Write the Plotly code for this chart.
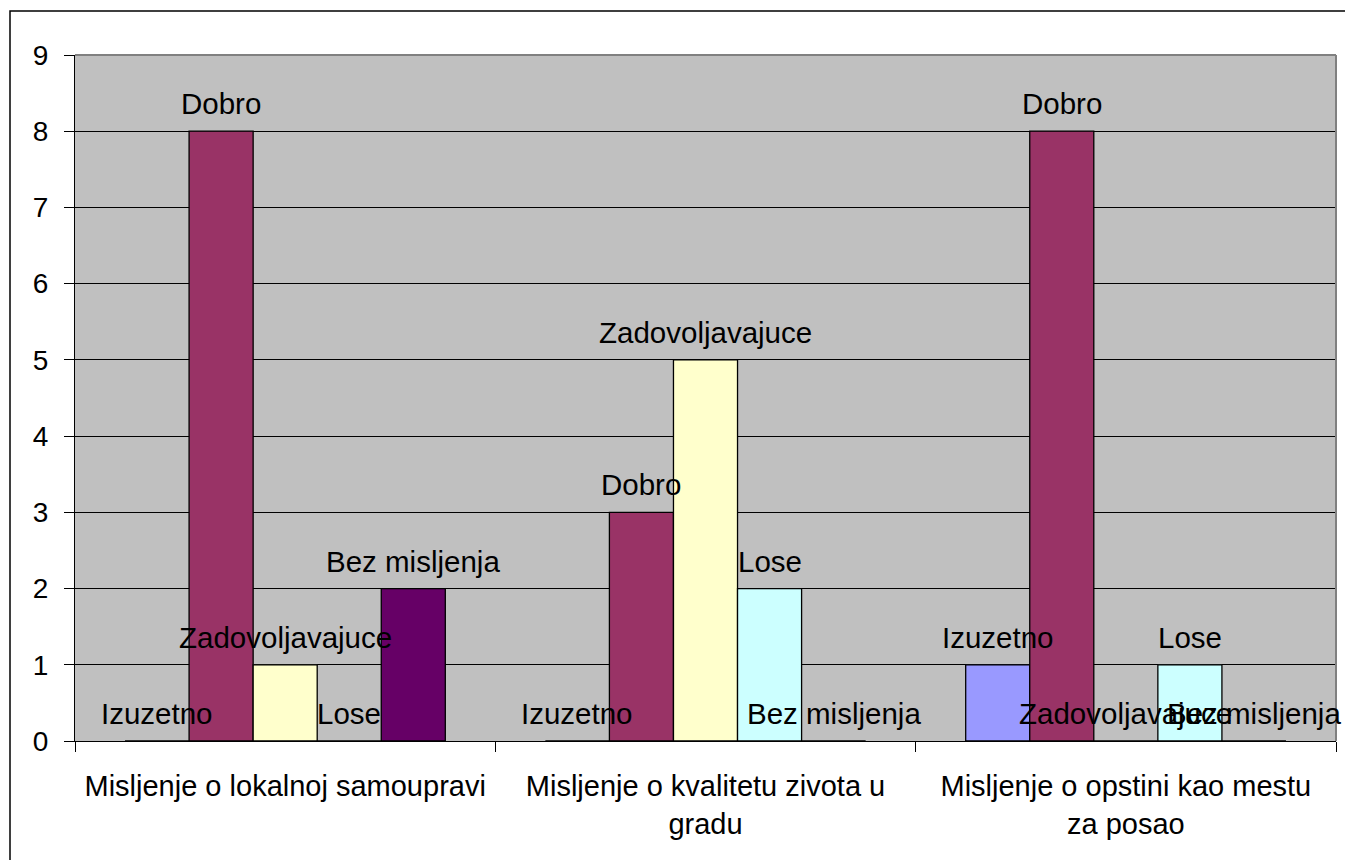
import plotly.graph_objects as go

categories = [
    "Misljenje o lokalnoj samoupravi",
    "Misljenje o kvalitetu zivota u<br>gradu",
    "Misljenje o opstini kao mestu<br>za posao",
]
series_names = ["Izuzetno", "Dobro", "Zadovoljavajuce", "Lose", "Bez misljenja"]
izuzetno = [0, 0, 1]
dobro = [8, 3, 8]
zadovoljavajuce = [1, 5, 0]
lose = [0, 2, 1]
bez_misljenja = [2, 0, 0]
series_values = [izuzetno, dobro, zadovoljavajuce, lose, bez_misljenja]
colors = ["#9999FF", "#993366", "#FFFFCC", "#CCFFFF", "#660066"]
y_ticks = list(range(0, 10))

FONT = "Arial, 'Liberation Sans', sans-serif"
W, H = 1345, 860
ML, MR, MT, MB = 75, 9, 55, 119
BARGAP = 0.238

plot_w = W - ML - MR
plot_h = H - MT - MB
n_series = len(series_names)
bar_px = plot_w / len(categories) * (1 - BARGAP) / n_series

fig = go.Figure()
annotations = []
for i, (name, vals, col) in enumerate(zip(series_names, series_values, colors)):
    fig.add_trace(go.Bar(
        x=categories, y=vals, name=name,
        marker=dict(color=col, line=dict(color="black", width=1.3)),
    ))
    for cat, v in zip(categories, vals):
        annotations.append(dict(
            x=cat, y=v, xref="x", yref="y", text=name, showarrow=False,
            xanchor="center", yanchor="bottom",
            xshift=(i - (n_series - 1) / 2) * bar_px, yshift=9,
            font=dict(family=FONT, size=29.5, color="black"),
        ))

fig.update_layout(
    width=W, height=H,
    barmode="group", bargap=BARGAP, bargroupgap=0,
    showlegend=False,
    plot_bgcolor="#C0C0C0", paper_bgcolor="white",
    margin=dict(l=ML, r=MR, t=MT, b=MB),
    font=dict(family=FONT, size=28, color="black"),
    annotations=annotations,
    xaxis=dict(
        type="category", range=[-0.5, len(categories) - 0.5],
        showgrid=False, showline=True, linecolor="black", linewidth=1,
        ticks="outside", tickson="boundaries", ticklen=10, tickcolor="black",
        tickfont=dict(size=29), ticklabelstandoff=19,
    ),
    yaxis=dict(
        range=[0, 9], tickvals=y_ticks, showgrid=True, gridcolor="black", gridwidth=1,
        showline=True, linecolor="black", linewidth=1, zeroline=False,
        ticks="outside", ticklen=10, tickcolor="black", ticklabelstandoff=10,
        tickfont=dict(size=28),
    ),
    shapes=[
        dict(
            type="rect", xref="paper", yref="paper",
            x0=(10 - ML) / plot_w, x1=(W + 15 - ML) / plot_w,
            y0=-(MB + 20) / plot_h, y1=(H - MB - 11) / plot_h,
            line=dict(color="black", width=1.5), fillcolor="rgba(0,0,0,0)", layer="below",
        ),
        dict(type="line", xref="paper", yref="paper", x0=0, x1=1, y0=1, y1=1,
             line=dict(color="#808080", width=2), layer="above"),
        dict(type="line", xref="paper", yref="paper", x0=1, x1=1, y0=0, y1=1,
             line=dict(color="#808080", width=2), layer="above"),
    ],
)

fig.write_html("out.html", config={"displayModeBar": False},
               post_script="document.body.style.margin='0';")
